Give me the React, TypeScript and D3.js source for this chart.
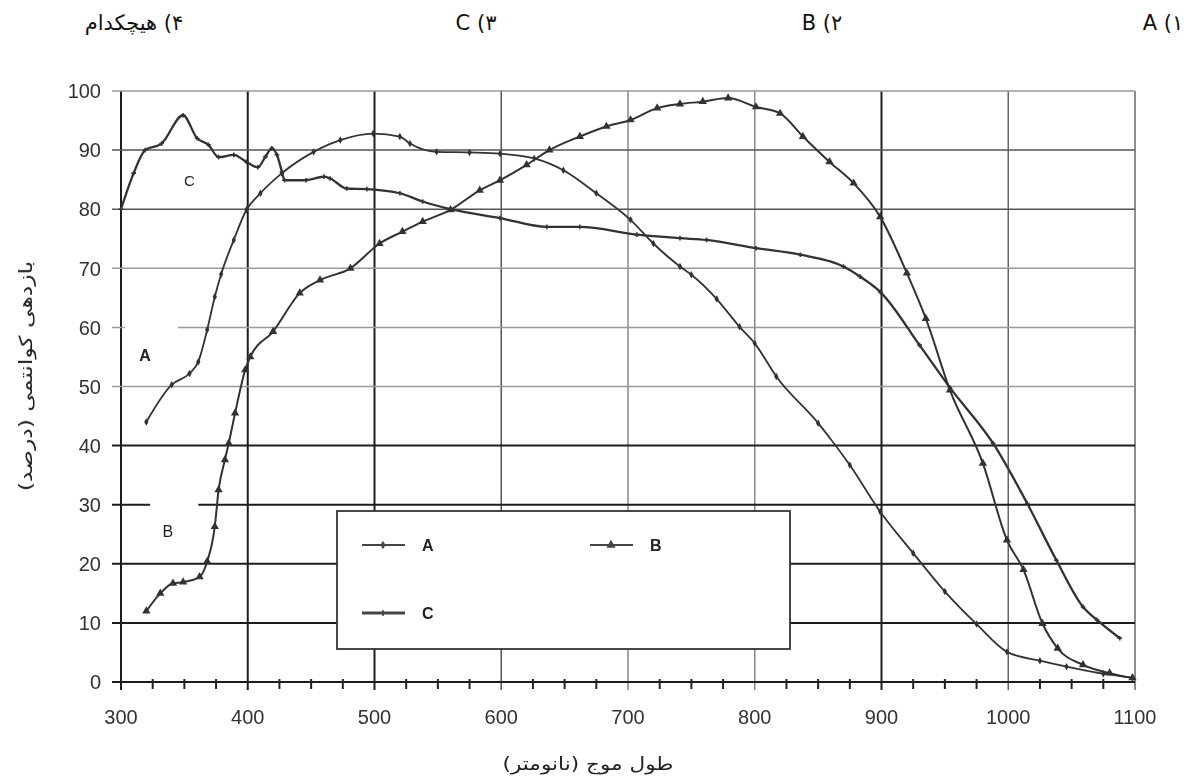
import React, {Component} from "react"
import * as d3 from "d3"

// wavelength (nm) / quantum efficiency (%)
const a_nm = [320, 340, 354, 361, 368, 374, 379, 389, 399, 410, 427, 452, 473, 499, 520, 528, 549, 575, 599, 626, 649, 675, 702, 720, 741, 750, 770, 788, 800, 817, 850, 875, 899, 925, 950, 975, 999, 1025, 1046, 1075, 1098];
const a_val = [44.0, 50.3, 52.2, 54.2, 59.6, 65.2, 69.0, 74.8, 79.9, 82.7, 86.1, 89.7, 91.7, 92.8, 92.3, 91.1, 89.7, 89.6, 89.4, 88.6, 86.6, 82.7, 78.2, 74.2, 70.3, 68.9, 64.8, 60.1, 57.3, 51.7, 43.8, 36.7, 28.8, 21.8, 15.3, 9.8, 5.1, 3.6, 2.6, 1.4, 0.7];

const b_nm = [320, 331, 341, 349, 362, 368, 374, 377, 382, 385, 390, 398, 402, 420, 441, 457, 481, 504, 522, 538, 560, 583, 599, 620, 638, 662, 683, 702, 723, 741, 759, 779, 801, 820, 838, 859, 878, 899, 920, 935, 954, 980, 999, 1012, 1027, 1039, 1059, 1080, 1098];
const b_val = [12.0, 15.0, 16.7, 16.9, 17.8, 20.4, 26.3, 32.5, 37.6, 40.4, 45.5, 52.8, 55.0, 59.3, 65.8, 68.0, 70.0, 74.2, 76.2, 77.9, 79.9, 83.2, 84.9, 87.5, 90.0, 92.3, 94.0, 95.1, 97.1, 97.8, 98.2, 98.8, 97.3, 96.2, 92.3, 88.0, 84.4, 78.7, 69.2, 61.5, 49.4, 37.0, 24.0, 19.0, 9.9, 5.7, 2.9, 1.5, 0.7];

const c_nm = [300, 310, 319, 332, 349, 360, 369, 377, 389, 399, 408, 414, 419, 423, 427, 429, 446, 460, 465, 478, 494, 520, 538, 560, 599, 636, 662, 707, 741, 762, 801, 836, 870, 883, 899, 930, 954, 988, 1015, 1038, 1059, 1070, 1088];
const c_val = [80.0, 86.1, 90.0, 91.1, 95.9, 92.0, 90.9, 88.8, 89.2, 88.0, 87.1, 88.9, 90.3, 89.2, 86.3, 84.9, 84.9, 85.5, 85.2, 83.5, 83.4, 82.7, 81.3, 80.0, 78.5, 77.0, 77.0, 75.7, 75.1, 74.8, 73.4, 72.3, 70.3, 68.6, 66.0, 57.0, 49.8, 40.4, 30.2, 20.6, 12.7, 10.5, 7.4];

const x_ticks = [300, 400, 500, 600, 700, 800, 900, 1000, 1100];
const y_ticks = [0, 10, 20, 30, 40, 50, 60, 70, 80, 90, 100];
const x_title = "طول موج (نانومتر)";
const y_title = "بازدهی کوانتمی (درصد)";
const choices = ["۱) A", "۲) B", "۳) C", "۴) هیچکدام"];
const series_names = ["A", "B", "C"];

class QuantumChart extends Component {
    svgRef = React.createRef<SVGSVGElement>();

    componentDidMount() {
        this.draw();
    }

    draw() {
        var W = 1191, H = 783;
        var margin = { top: 91, right: 56, bottom: 101, left: 121 };

        var svg = d3.select(this.svgRef.current);
        svg.selectAll("*").remove();
        svg.attr("width", W).attr("height", H);

        var x = d3.scaleLinear().domain([300, 1100]).range([margin.left, W - margin.right]);
        var y = d3.scaleLinear().domain([0, 100]).range([H - margin.bottom, margin.top]);

        // slight softness like the scanned original
        svg.append("defs").append("filter").attr("id", "scan")
            .append("feGaussianBlur").attr("stdDeviation", 0.55);

        svg.append("rect").attr("width", W).attr("height", H).attr("fill", "#fff");

        // question choices on top (rtl)
        var choiceX = [1163, 822, 476, 134];
        svg.selectAll(".choice")
            .data(choices)
            .join("text")
            .attr("class", "choice")
            .attr("x", (d, i) => choiceX[i])
            .attr("y", 30)
            .attr("direction", "rtl")
            .attr("text-anchor", "middle")
            .attr("font-family", "DejaVu Sans")
            .attr("font-size", 21)
            .attr("fill", "#111")
            .text(d => d);

        var g = svg.append("g").attr("filter", "url(#scan)");

        // grid lines, darkness differs line to line in the scan
        var vColor = (v) => ([300, 400, 500, 900].includes(v) ? "#1e1e1e" : v == 600 ? "#555" : v >= 1000 ? "#666" : "#888");
        var hColor = (v) => (v <= 40 ? "#1e1e1e" : (v == 80 || v == 90) ? "#555" : "#999");

        g.selectAll(".vgrid")
            .data(x_ticks)
            .join("line")
            .attr("class", "vgrid")
            .attr("x1", d => x(d)).attr("x2", d => x(d))
            .attr("y1", y(100)).attr("y2", y(0) + 8)
            .attr("stroke", vColor)
            .attr("stroke-width", d => (vColor(d) == "#1e1e1e" ? 2 : 1.5));

        g.selectAll(".hgrid")
            .data(y_ticks)
            .join("line")
            .attr("class", "hgrid")
            .attr("x1", x(300) - 9).attr("x2", x(1100))
            .attr("y1", d => y(d)).attr("y2", d => y(d))
            .attr("stroke", hColor)
            .attr("stroke-width", d => (hColor(d) == "#1e1e1e" ? 2 : 1.5));

        // minor ticks on the x axis
        g.selectAll(".minor")
            .data(d3.range(325, 1100, 25).filter(v => v % 100 != 0))
            .join("line")
            .attr("class", "minor")
            .attr("x1", d => x(d)).attr("x2", d => x(d))
            .attr("y1", y(0) - 3).attr("y2", y(0) + 7)
            .attr("stroke", "#222")
            .attr("stroke-width", 2);

        // gaps in the grid behind the A and B labels
        g.append("rect").attr("x", x(303)).attr("width", x(345) - x(303))
            .attr("y", y(61)).attr("height", y(59) - y(61)).attr("fill", "#fff");
        g.append("rect").attr("x", x(323)).attr("width", x(361) - x(323))
            .attr("y", y(31)).attr("height", y(29) - y(31)).attr("fill", "#fff");

        // tick labels
        g.selectAll(".xlab")
            .data(x_ticks)
            .join("text")
            .attr("class", "xlab")
            .attr("x", d => x(d))
            .attr("y", y(0) + 42)
            .attr("text-anchor", "middle")
            .attr("font-family", "Liberation Sans")
            .attr("font-size", 20)
            .attr("fill", "#333")
            .text(d => d);

        g.selectAll(".ylab")
            .data(y_ticks)
            .join("text")
            .attr("class", "ylab")
            .attr("x", x(300) - 20)
            .attr("y", d => y(d))
            .attr("dy", "0.36em")
            .attr("text-anchor", "end")
            .attr("font-family", "Liberation Sans")
            .attr("font-size", 20)
            .attr("fill", "#333")
            .text(d => d);

        // axis titles, stretched along their length as in the scan
        g.append("text")
            .attr("transform", "translate(588,770) scale(1.2,1)")
            .attr("direction", "rtl")
            .attr("text-anchor", "middle")
            .attr("font-family", "DejaVu Sans")
            .attr("font-size", 18)
            .attr("fill", "#222")
            .text(x_title);

        g.append("text")
            .attr("transform", "translate(26,376) rotate(-90) scale(1.3,1)")
            .attr("direction", "rtl")
            .attr("text-anchor", "middle")
            .attr("dy", "0.35em")
            .attr("font-family", "DejaVu Sans")
            .attr("font-size", 18)
            .attr("fill", "#222")
            .text(y_title);

        // curves
        var line = d3.line().x(d => x(d[0])).y(d => y(d[1])).curve(d3.curveMonotoneX);
        var series = [
            { name: "A", pts: d3.zip(a_nm, a_val), width: 1.8, sym: d3.symbolDiamond, size: 16 },
            { name: "B", pts: d3.zip(b_nm, b_val), width: 2, sym: d3.symbolTriangle, size: 30 },
            { name: "C", pts: d3.zip(c_nm, c_val), width: 2.3, sym: d3.symbolCross, size: 12 }
        ];

        series.forEach(s => {
            g.append("path")
                .datum(s.pts)
                .attr("d", line)
                .attr("fill", "none")
                .attr("stroke", "#333")
                .attr("stroke-width", s.width);

            g.selectAll(".mk" + s.name)
                .data(s.pts)
                .join("path")
                .attr("class", "mk" + s.name)
                .attr("transform", d => `translate(${x(d[0])},${y(d[1])})`)
                .attr("d", d3.symbol().type(s.sym).size(s.size))
                .attr("fill", "#333");
        });

        // labels inside the plot
        var tags = [["C", 354, 84.8, 15, "normal"], ["A", 319, 55.2, 16, "bold"], ["B", 337, 25.5, 16, "normal"]];
        g.selectAll(".tag")
            .data(tags)
            .join("text")
            .attr("class", "tag")
            .attr("x", d => x(d[1]))
            .attr("y", d => y(d[2]))
            .attr("dy", "0.35em")
            .attr("text-anchor", "middle")
            .attr("font-family", "Liberation Sans")
            .attr("font-size", d => d[3])
            .attr("font-weight", d => d[4])
            .attr("fill", "#222")
            .text(d => d[0]);

        // legend
        var lg = g.append("g");
        lg.append("rect")
            .attr("x", 337).attr("y", 511)
            .attr("width", 453).attr("height", 138)
            .attr("fill", "#fff")
            .attr("stroke", "#333")
            .attr("stroke-width", 1.8);

        var legendPos = [[362, 545], [590, 545], [362, 613]];
        series.forEach((s, i) => {
            var p = legendPos[i];
            lg.append("line")
                .attr("x1", p[0]).attr("x2", p[0] + 43)
                .attr("y1", p[1]).attr("y2", p[1])
                .attr("stroke", "#444")
                .attr("stroke-width", s.name == "C" ? 3 : 1.8);
            lg.append("path")
                .attr("transform", `translate(${p[0] + 21},${p[1]})`)
                .attr("d", d3.symbol().type(s.sym).size(s.size + 6))
                .attr("fill", "#444");
            lg.append("text")
                .attr("x", p[0] + 60).attr("y", p[1])
                .attr("dy", "0.35em")
                .attr("font-family", "Liberation Sans")
                .attr("font-size", 16)
                .attr("font-weight", "bold")
                .attr("fill", "#222")
                .text(series_names[i]);
        });
    }

    render() {
        return (
            <svg ref={this.svgRef} style={{ position: "absolute", left: 0, top: 0, display: "block" }}></svg>
        )
    }
}

export default function App() {
    return <QuantumChart />
}
